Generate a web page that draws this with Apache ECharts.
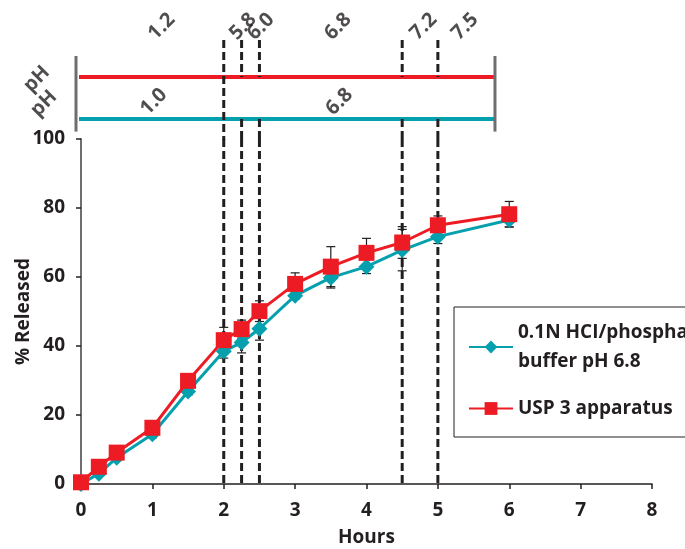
<!DOCTYPE html>
<html>
<head>
<meta charset="utf-8">
<script src="https://cdn.jsdelivr.net/npm/echarts@6/dist/echarts.min.js"></script>
<style>html,body{margin:0;padding:0;background:#fff}#chart{width:685px;height:549px}</style>
</head>
<body>
<div id="chart"></div>
<script>
// sampling times (hours)
var hours = [0, 0.25, 0.5, 1, 1.5, 2, 2.25, 2.5, 3, 3.5, 4, 4.5, 5, 6];
// 0.1N HCl / phosphate buffer pH 6.8
var bufferRelease = [0, 3, 7.6, 14.4, 26.8, 38.5, 41, 45, 54.6, 59.8, 63, 67.8, 71.7, 76.5];
var bufferErr = [0, 0.5, 0.8, 1, 1, 2, 3, 3.3, 1, 3, 2, 6, 2, 2];
// USP 3 apparatus
var usp3Release = [0.5, 5, 9.1, 16.3, 29.9, 41.7, 44.9, 50.1, 58, 63, 67, 70, 75, 78.2];
var usp3Err = [0, 0.5, 0.8, 2, 1, 3.7, 2.6, 3, 3.2, 5.8, 4.2, 4.6, 2.7, 3.7];

// pH programme bands
var bandStart = -0.07, bandEnd = 5.8;
var usp3Changes = [2, 2.25, 2.5, 4.5, 5];
var usp3Ph = ['1.2', '5.8', '6.0', '6.8', '7.2', '7.5'];
var usp3PhAt = [1.13, 2.27, 2.52, 3.6, 4.8, 5.38];
var bufferPhAt = [1.02, 3.62];
var bufferChanges = [2];
var bufferPh = ['1.0', '6.8'];

var legendNames = {
    buffer: '0.1N HCI/phosphate\nbuffer pH 6.8',
    usp: 'USP 3 apparatus'
};

var RED = '#ed1c24', TEAL = '#05a0ae', INK = '#231f20';
var FONT = 'Open Sans';
var FS = 19;

var chart = echarts.init(document.getElementById('chart'));

function pairs(ys) {
    return hours.map(function (h, i) { return [h, ys[i]]; });
}
function errData(ys, es) {
    return hours.map(function (h, i) { return [h, ys[i] - es[i], ys[i] + es[i]]; });
}
function renderErr(params, api) {
    var lo = api.coord([api.value(0), api.value(1)]);
    var hi = api.coord([api.value(0), api.value(2)]);
    var st = {stroke: INK, lineWidth: 1.2};
    var w = 4.5;
    return {
        type: 'group',
        children: [
            {type: 'line', shape: {x1: lo[0], y1: lo[1], x2: hi[0], y2: hi[1]}, style: st},
            {type: 'line', shape: {x1: lo[0] - w, y1: lo[1], x2: lo[0] + w, y2: lo[1]}, style: st},
            {type: 'line', shape: {x1: hi[0] - w, y1: hi[1], x2: hi[0] + w, y2: hi[1]}, style: st}
        ]
    };
}
var dashStyle = {stroke: INK, lineWidth: 3, lineDash: [8, 4]};

function phLabels(at, txt, y) {
    return at.map(function (x, i) { return [x, y, txt[i]]; });
}
var labelStyle = {
    show: true, position: 'inside', rotate: 45,
    fontFamily: FONT, fontWeight: 'bold', fontSize: 20, color: INK,
    textBorderWidth: 0, textBorderColor: 'transparent',
    formatter: function (p) { return p.value[2]; }
};
var axisText = {fontFamily: FONT, fontWeight: 'bold', fontSize: FS, color: INK};

var option = {
    animation: false,
    backgroundColor: '#fff',
    textStyle: {fontFamily: FONT},
    grid: [
        {left: 81, width: 571, top: 139, height: 345, outerBoundsMode: 'none'},
        {left: 81, width: 571, top: 14, height: 126, outerBoundsMode: 'none'}
    ],
    xAxis: [{
        type: 'value', min: 0, max: 8, interval: 1,
        name: 'Hours', nameLocation: 'middle', nameGap: 44,
        nameTextStyle: axisText,
        axisLine: {lineStyle: {color: INK, width: 1.5}},
        axisTick: {show: true, length: 5, lineStyle: {color: INK, width: 1.5}},
        axisLabel: Object.assign({margin: 17}, axisText),
        splitLine: {show: false}
    }, {
        type: 'value', gridIndex: 1, min: 0, max: 8, show: false
    }],
    yAxis: [{
        type: 'value', min: 0, max: 100, interval: 20,
        name: '% Released', nameLocation: 'middle', nameGap: 48, nameRotate: 90,
        nameMoveOverlap: false,
        nameTextStyle: axisText,
        axisLine: {show: true, lineStyle: {color: '#6d6e71', width: 2}},
        axisTick: {show: true, length: 5, lineStyle: {color: INK, width: 1.5}},
        axisLabel: Object.assign({margin: 16}, axisText),
        splitLine: {show: false}
    }, {
        type: 'value', gridIndex: 1, min: 0.5, max: 3.5, show: false
    }],
    legend: {
        data: ['buffer', 'usp'],
        orient: 'vertical',
        left: 454, top: 307,
        padding: [11, 20, 14, 14],
        itemGap: 18,
        itemWidth: 44, itemHeight: 16,
        borderColor: INK, borderWidth: 1,
        formatter: function (n) { return legendNames[n]; },
        textStyle: {fontFamily: FONT, fontWeight: 'bold', fontSize: FS, color: INK, lineHeight: 29}
    },
    series: [
        // pH band lines
        {type: 'line', xAxisIndex: 1, yAxisIndex: 1, silent: true, clip: false, symbol: 'none',
         data: [[bandStart, 2], [bandEnd, 2]], lineStyle: {color: RED, width: 4}, z: 2},
        {type: 'line', xAxisIndex: 1, yAxisIndex: 1, silent: true, clip: false, symbol: 'none',
         data: [[bandStart, 1], [bandEnd, 1]], lineStyle: {color: TEAL, width: 4}, z: 2},
        // band end bars
        {type: 'custom', xAxisIndex: 1, yAxisIndex: 1, silent: true, clip: false, z: 3,
         data: [[bandStart], [bandEnd]],
         renderItem: function (params, api) {
             var a = api.coord([api.value(0), 0.7]), b = api.coord([api.value(0), 2.5]);
             return {type: 'line', shape: {x1: a[0], y1: a[1], x2: b[0], y2: b[1]},
                     style: {stroke: '#6d6e71', lineWidth: 3}};
         }},
        // dashed change lines, upper part
        {type: 'custom', xAxisIndex: 1, yAxisIndex: 1, silent: true, clip: false, z: 4,
         data: usp3Changes.map(function (x) { return [x]; }),
         renderItem: function (params, api) {
             var x = api.value(0);
             var segs = bufferChanges.indexOf(x) >= 0 ? [[2.88, 0.5]] : [[2.88, 2], [1, 0.5]];
             return {type: 'group', children: segs.map(function (s) {
                 var a = api.coord([x, s[0]]), b = api.coord([x, s[1]]);
                 return {type: 'line', shape: {x1: a[0], y1: a[1], x2: b[0], y2: b[1]}, style: dashStyle};
             })};
         }},
        // pH labels
        {type: 'scatter', xAxisIndex: 1, yAxisIndex: 1, silent: true, clip: false, symbolSize: 0,
         data: phLabels(usp3PhAt, usp3Ph, 3.2), label: labelStyle, z: 5},
        {type: 'scatter', xAxisIndex: 1, yAxisIndex: 1, silent: true, clip: false, symbolSize: 0,
         data: phLabels(bufferPhAt, bufferPh, 1.41), label: labelStyle, z: 5},
        {type: 'scatter', xAxisIndex: 1, yAxisIndex: 1, silent: true, clip: false, symbolSize: 0,
         data: [[-0.62, 1.95, 'pH'], [-0.52, 1.37, 'pH']], label: labelStyle, z: 5},
        // dashed change lines, plot part
        {type: 'custom', silent: true, clip: false, z: 1,
         data: usp3Changes.map(function (x) { return [x]; }),
         renderItem: function (params, api) {
             var a = api.coord([api.value(0), 100]), b = api.coord([api.value(0), 0]);
             return {type: 'line', shape: {x1: a[0], y1: a[1], x2: b[0], y2: b[1]}, style: dashStyle};
         }},
        // error bars
        {type: 'custom', silent: true, clip: false, z: 2, data: errData(bufferRelease, bufferErr), renderItem: renderErr},
        {type: 'custom', silent: true, clip: false, z: 2, data: errData(usp3Release, usp3Err), renderItem: renderErr},
        // release curves
        {name: 'buffer', type: 'line', clip: false, z: 3, data: pairs(bufferRelease),
         symbol: 'diamond', symbolSize: 16, showAllSymbol: true,
         itemStyle: {color: TEAL}, lineStyle: {color: TEAL, width: 3}},
        {name: 'usp', type: 'line', clip: false, z: 4, data: pairs(usp3Release),
         symbol: 'rect', symbolSize: 16, showAllSymbol: true,
         itemStyle: {color: RED}, lineStyle: {color: RED, width: 3}}
    ]
};
chart.setOption(option);
</script>
</body>
</html>
